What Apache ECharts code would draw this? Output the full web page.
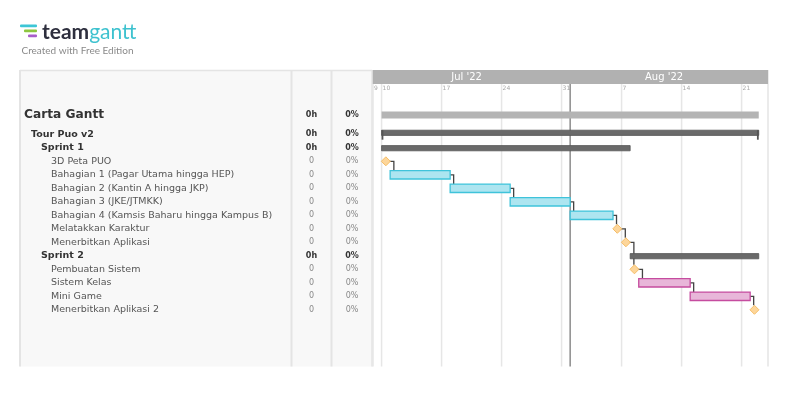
<!DOCTYPE html>
<html>
<head>
<meta charset="utf-8">
<script src="https://cdn.jsdelivr.net/npm/echarts@6/dist/echarts.min.js"></script>
<style>
html,body{margin:0;padding:0;background:#fff;}
#main{width:795px;height:393px;}
</style>
</head>
<body>
<div id="main"></div>
<script>
// ---------------- DATA ----------------
const taskNames = [
  'Carta Gantt',
  'Tour Puo v2',
  'Sprint 1',
  '3D Peta PUO',
  'Bahagian 1 (Pagar Utama hingga HEP)',
  'Bahagian 2 (Kantin A hingga JKP)',
  'Bahagian 3 (JKE/JTMKK)',
  'Bahagian 4 (Kamsis Baharu hingga Kampus B)',
  'Melatakkan Karaktur',
  'Menerbitkan Aplikasi',
  'Sprint 2',
  'Pembuatan Sistem',
  'Sistem Kelas',
  'Mini Game',
  'Menerbitkan Aplikasi 2'
];
const taskLevels = [0, 1, 2, 3, 3, 3, 3, 3, 3, 3, 2, 3, 3, 3, 3];
const taskKinds = ['project', 'group', 'sprint', 'milestone', 'task', 'task', 'task', 'task',
  'milestone', 'milestone', 'sprint', 'milestone', 'task', 'task', 'milestone'];
const taskStarts = ['2022-07-10', '2022-07-10', '2022-07-10', '2022-07-10', '2022-07-11', '2022-07-18',
  '2022-07-25', '2022-08-01', '2022-08-06', '2022-08-07', '2022-08-08', '2022-08-08', '2022-08-09',
  '2022-08-15', '2022-08-22'];
const taskEnds = ['2022-08-22', '2022-08-22', '2022-08-07', '2022-07-10', '2022-07-17', '2022-07-24',
  '2022-07-31', '2022-08-05', '2022-08-06', '2022-08-07', '2022-08-22', '2022-08-08', '2022-08-14',
  '2022-08-21', '2022-08-22'];
const taskHours = ['0h', '0h', '0h', '0', '0', '0', '0', '0', '0', '0', '0h', '0', '0', '0', '0'];
const taskProgress = ['0%', '0%', '0%', '0%', '0%', '0%', '0%', '0%', '0%', '0%', '0%', '0%', '0%', '0%', '0%'];
const tickDates = ['2022-07-09', '2022-07-10', '2022-07-17', '2022-07-24', '2022-07-31',
  '2022-08-07', '2022-08-14', '2022-08-21'];
const monthLabels = ["Jul '22", "Aug '22"];
const monthStarts = ['2022-07-01', '2022-08-01'];
const monthEnds = ['2022-07-31', '2022-08-31'];
const todayDate = '2022-08-01';
const viewStart = '2022-07-09';
const viewDays = 46.08;

// ---------------- HELPERS ----------------
const DAY = 86400000;
const ts = s => Date.parse(s + 'T00:00:00Z');
const xMin = ts(viewStart);
const xMax = xMin + viewDays * DAY;
const FONT = 'DejaVu Sans';

const sprintPalette = [
  { fill: '#ade5f0', stroke: '#3fc3da' },
  { fill: '#e8b6d9', stroke: '#c54c9f' }
];
// sprint membership derived from order
const taskSprint = [];
let curSprint = -1;
taskKinds.forEach((k, i) => { if (k === 'sprint') curSprint++; taskSprint.push(curSprint); });

const rowOffset = k => (k === 'project' ? -5.8 : 0);

// ---------------- SERIES DATA ----------------
const taskData = taskNames.map((n, i) => [ts(taskStarts[i]), ts(taskEnds[i]) + DAY, i]);
const leaf = taskKinds.map((k, i) => i).filter(i => taskKinds[i] === 'task' || taskKinds[i] === 'milestone');
const linkData = [];
for (let j = 1; j < leaf.length; j++) linkData.push([xMin, leaf[j - 1], leaf[j]]);
const tickData = tickDates.map(s => [ts(s), 0]);
const monthData = monthLabels.map((m, i) => [ts(monthStarts[i]), ts(monthEnds[i]) + DAY, i]);
const tableData = taskNames.map((n, i) => [xMin, i]);

const GRID_TOP = 70, BAND_H = 14;

function gridRect(params) { return params.coordSys; }

const option = {
  useUTC: true,
  animation: false,
  textStyle: { fontFamily: FONT },
  grid: { left: 373, top: GRID_TOP, width: 395, height: 296.6, containLabel: false },
  xAxis: { type: 'time', min: xMin, max: xMax, show: false },
  yAxis: { type: 'value', inverse: true, min: -3.763, max: 18.207, show: false },
  graphic: [
    // left panel
    { type: 'rect', shape: { x: 20, y: 70, width: 352, height: 296.6 }, style: { fill: '#f8f8f8' }, z: -10 },
    { type: 'line', shape: { x1: 20, y1: 70, x2: 20, y2: 366.6 }, style: { stroke: '#e4e4e4', lineWidth: 2 }, z: -9 },
    { type: 'line', shape: { x1: 20, y1: 70.5, x2: 372, y2: 70.5 }, style: { stroke: '#e4e4e4', lineWidth: 1.5 }, z: -9 },
    { type: 'line', shape: { x1: 291.5, y1: 70, x2: 291.5, y2: 366.6 }, style: { stroke: '#e4e4e4', lineWidth: 2 }, z: -9 },
    { type: 'line', shape: { x1: 331.5, y1: 70, x2: 331.5, y2: 366.6 }, style: { stroke: '#e4e4e4', lineWidth: 2 }, z: -9 },
    { type: 'line', shape: { x1: 372, y1: 70, x2: 372, y2: 366.6 }, style: { stroke: '#e4e4e4', lineWidth: 1.5 }, z: -9 },
    { type: 'line', shape: { x1: 768, y1: 70, x2: 768, y2: 366.6 }, style: { stroke: '#e4e4e4', lineWidth: 1.5 }, z: -9 },
    // month band background (above grid lines)
    { type: 'rect', shape: { x: 372.7, y: 70, width: 395.3, height: 14 }, style: { fill: '#b1b1b1' }, z: 10 },
    // logo
    { type: 'rect', shape: { x: 20, y: 24.5, width: 17, height: 2.8, r: 1 }, style: { fill: '#3dc6d6' } },
    { type: 'rect', shape: { x: 24, y: 29.5, width: 13, height: 2.8, r: 1 }, style: { fill: '#8dc63f' } },
    { type: 'rect', shape: { x: 28, y: 34.5, width: 9, height: 2.8, r: 1 }, style: { fill: '#a85dc9' } },
    { type: 'text', x: 42, y: 32, style: {
        text: '{a|team}{b|gantt}', verticalAlign: 'middle',
        rich: {
          a: { fontFamily: 'Lato', fontWeight: 'bold', fontSize: 21, fill: '#2e2f3e' },
          b: { fontFamily: 'Lato', fontWeight: 'normal', fontSize: 21, fill: '#3ec2cf' }
        }
      } },
    { type: 'text', x: 21.5, y: 50.5, style: { text: 'Created with Free Edition', fontFamily: 'Lato', fontSize: 10, fill: '#8a8a8a', verticalAlign: 'middle' } }
  ],
  series: [
    // week lines + day labels
    {
      type: 'custom', name: 'ticks', z: 1, data: tickData, clip: false,
      renderItem(params, api) {
        const cs = gridRect(params);
        const x = api.coord([api.value(0), 0])[0];
        const d = new Date(api.value(0)).getUTCDate();
        return { type: 'group', children: [
          { type: 'line', shape: { x1: x, y1: cs.y + BAND_H, x2: x, y2: cs.y + cs.height }, style: { stroke: '#e6e6e6', lineWidth: 1.5 } },
          { type: 'text', x: x + 1, y: cs.y + BAND_H + 4.5, style: { text: String(d), fontFamily: FONT, fontSize: 6, fill: '#a8a8a8', verticalAlign: 'middle' } }
        ] };
      }
    },
    // month labels
    {
      type: 'custom', name: 'months', z: 12, data: monthData, clip: false,
      renderItem(params, api) {
        const cs = gridRect(params);
        let x1 = Math.max(api.coord([api.value(0), 0])[0], cs.x);
        let x2 = Math.min(api.coord([api.value(1), 0])[0], cs.x + cs.width);
        return { type: 'text', x: (x1 + x2) / 2 - 5, y: cs.y + BAND_H / 2, style: { text: monthLabels[api.value(2)], fontFamily: FONT, fontSize: 10, fill: '#ffffff', align: 'center', verticalAlign: 'middle' } };
      }
    },
    // today line
    {
      type: 'custom', name: 'today', z: 3, data: [[ts(todayDate), 0]], clip: false,
      renderItem(params, api) {
        const cs = gridRect(params);
        const x = api.coord([api.value(0), 0])[0];
        return { type: 'line', shape: { x1: x, y1: cs.y + BAND_H, x2: x, y2: cs.y + cs.height }, style: { stroke: '#8c8c8c', lineWidth: 1.5 } };
      }
    },
    // dependency links
    {
      type: 'custom', name: 'links', z: 4, data: linkData, clip: false,
      renderItem(params, api) {
        const a = api.value(1), b = api.value(2);
        const ya = api.coord([xMin, a])[1] + rowOffset(taskKinds[a]);
        const yb = api.coord([xMin, b])[1] + rowOffset(taskKinds[b]);
        let sx, ex;
        if (taskKinds[a] === 'milestone') {
          sx = api.coord([ts(taskStarts[a]) + DAY / 2, a])[0];
          ex = sx + 4.5 + 3.5;
        } else {
          sx = api.coord([ts(taskEnds[a]) + DAY, a])[0];
          ex = sx + 3.5;
        }
        const ty = yb - (taskKinds[b] === 'milestone' ? 4.5 : 4.2);
        return { type: 'polyline', shape: { points: [[sx, ya], [ex, ya], [ex, ty]] }, style: { stroke: '#444', lineWidth: 1.3, fill: null } };
      }
    },
    // tasks
    {
      type: 'custom', name: 'tasks', z: 5, data: taskData, clip: false,
      renderItem(params, api) {
        const i = api.value(2);
        const kind = taskKinds[i];
        const p1 = api.coord([api.value(0), i]);
        const p2 = api.coord([api.value(1), i]);
        const y = p1[1] + rowOffset(kind);
        if (kind === 'milestone') {
          const cx = api.coord([api.value(0) + DAY / 2, i])[0];
          return { type: 'polygon', shape: { points: [[cx, y - 4.5], [cx + 4.5, y], [cx, y + 4.5], [cx - 4.5, y]] },
            style: { fill: '#fdd69a', stroke: '#f5bd67', lineWidth: 1 } };
        }
        if (kind === 'task') {
          const c = sprintPalette[taskSprint[i]];
          return { type: 'rect', shape: { x: p1[0], y: y - 4.2, width: p2[0] - p1[0], height: 8.4 },
            style: { fill: c.fill, stroke: c.stroke, lineWidth: 1.3 } };
        }
        if (kind === 'project') {
          return { type: 'rect', shape: { x: p1[0], y: y - 3.5, width: p2[0] - p1[0], height: 7 }, style: { fill: '#b4b4b4' } };
        }
        if (kind === 'group') {
          const yy = y - 1.5;
          return { type: 'group', children: [
            { type: 'rect', shape: { x: p1[0], y: yy - 2.6, width: p2[0] - p1[0], height: 5.2 }, style: { fill: '#6a6a6a', stroke: '#555', lineWidth: 0.8 } },
            { type: 'rect', shape: { x: p1[0], y: yy - 2.6, width: 1.8, height: 9.5 }, style: { fill: '#555' } },
            { type: 'rect', shape: { x: p2[0] - 1.8, y: yy - 2.6, width: 1.8, height: 9.5 }, style: { fill: '#555' } }
          ] };
        }
        // sprint
        return { type: 'rect', shape: { x: p1[0], y: y - 2.2, width: p2[0] - p1[0], height: 5.2 }, style: { fill: '#6a6a6a', stroke: '#555', lineWidth: 0.8 } };
      }
    },
    // left table text
    {
      type: 'custom', name: 'table', z: 6, data: tableData, clip: false,
      renderItem(params, api) {
        const i = api.value(1);
        const kind = taskKinds[i];
        const y = api.coord([xMin, i])[1] + rowOffset(kind);
        const lvl = taskLevels[i];
        const indent = [24, 31, 41, 51][lvl];
        const isLeaf = kind === 'task' || kind === 'milestone';
        const nameSize = lvl === 0 ? 12.2 : 9.5;
        return { type: 'group', children: [
          { type: 'text', x: indent, y: y, style: { text: taskNames[i], fontFamily: FONT, fontSize: nameSize,
              fontWeight: isLeaf ? 'normal' : 'bold', fill: isLeaf ? '#555555' : '#333333', verticalAlign: 'middle' } },
          { type: 'text', x: 311.5, y: y, style: { text: taskHours[i], fontFamily: FONT, fontSize: 8,
              fontWeight: isLeaf ? 'normal' : 'bold', fill: isLeaf ? '#888888' : '#333333', align: 'center', verticalAlign: 'middle' } },
          { type: 'text', x: 352, y: y, style: { text: taskProgress[i], fontFamily: FONT, fontSize: 8,
              fontWeight: isLeaf ? 'normal' : 'bold', fill: isLeaf ? '#888888' : '#333333', align: 'center', verticalAlign: 'middle' } }
        ] };
      }
    }
  ]
};

const chart = echarts.init(document.getElementById('main'), null, { renderer: 'canvas' });
chart.setOption(option);
</script>
</body>
</html>
